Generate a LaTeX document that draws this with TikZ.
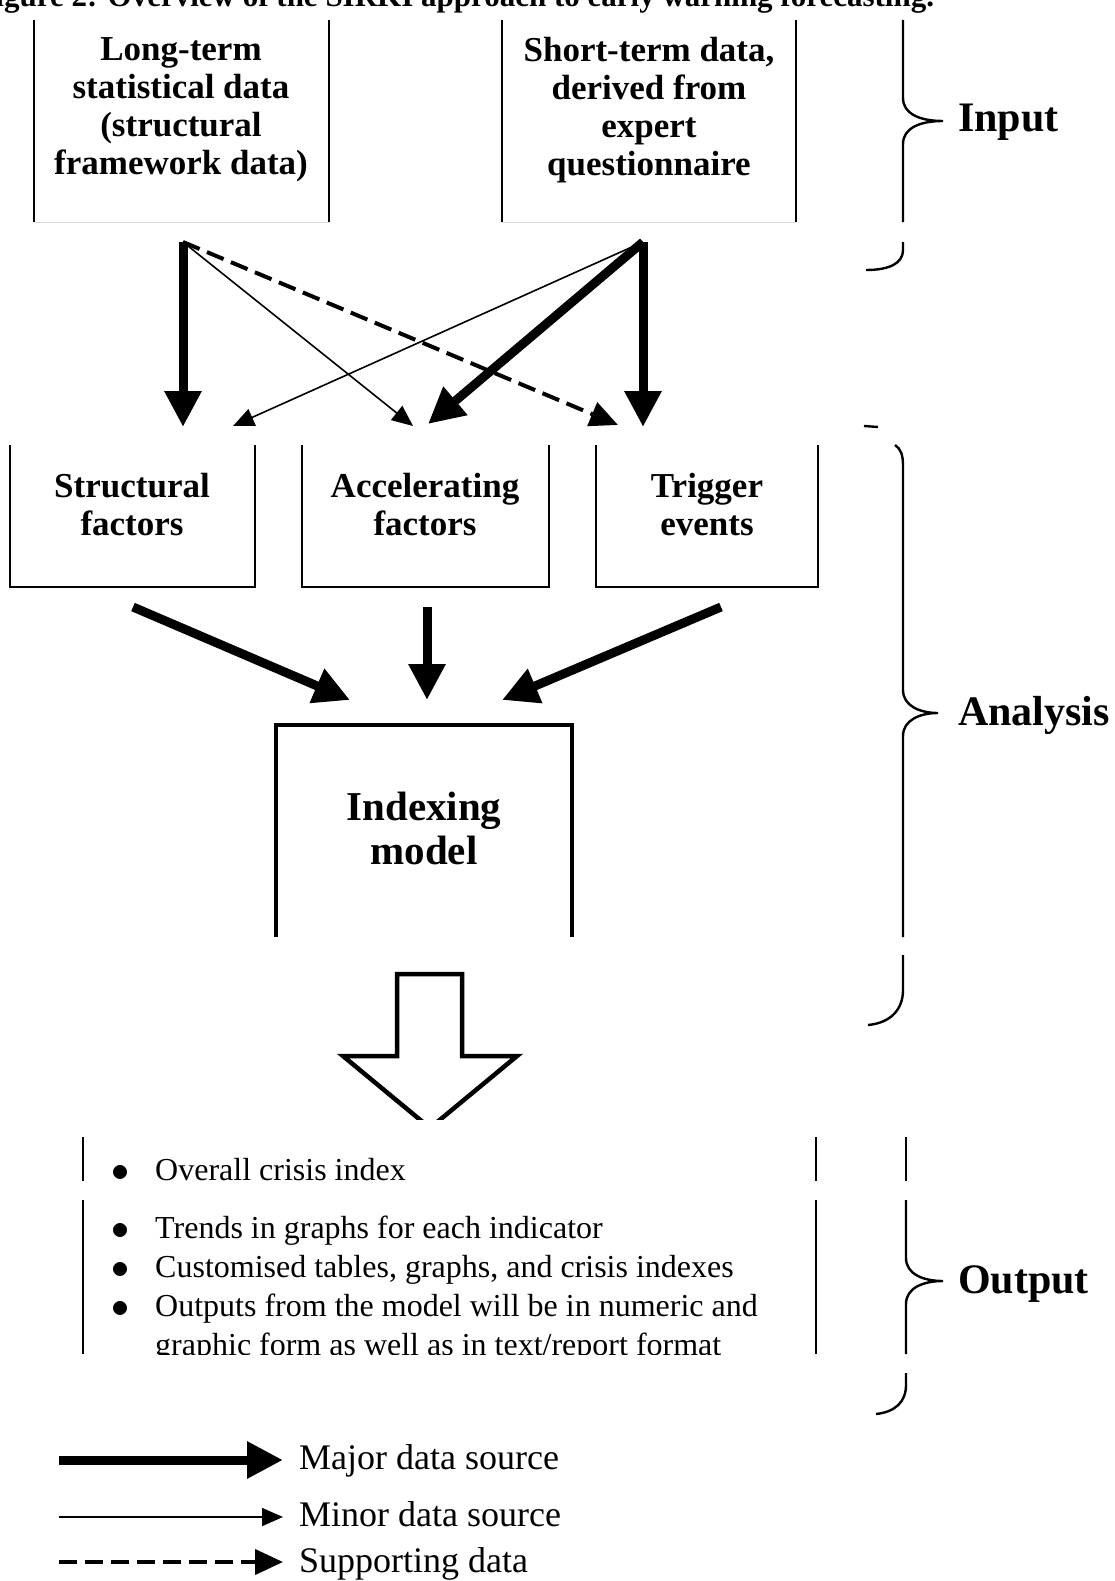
\documentclass[tikz,border=0pt]{standalone}
\usepackage{fontspec}
\setmainfont{Liberation Serif}
\usetikzlibrary{arrows.meta}
\tikzset{
  capt/.style    = {anchor=base west, font=\fontsize{31}{36}\selectfont\bfseries},
  boxtxt/.style  = {align=center, inner sep=0pt, font=\fontsize{35}{38}\selectfont\bfseries},
  bigtxt/.style  = {align=center, inner sep=0pt, font=\fontsize{41}{44}\selectfont\bfseries},
  phase/.style   = {anchor=base west, inner sep=0pt, font=\fontsize{42}{46}\selectfont\bfseries},
  listtxt/.style = {anchor=base west, inner sep=0pt, font=\fontsize{32}{39}\selectfont},
  keytxt/.style  = {anchor=base west, inner sep=0pt, font=\fontsize{36}{40}\selectfont},
  side/.style    = {line width=1.8pt},
  heavy/.style   = {line width=4.5pt, line join=miter},
  brace/.style   = {line width=2.4pt},
  major/.style   = {line width=9pt, -{Triangle[length=36pt,width=35pt]}},
  minor/.style   = {line width=1.6pt, -{Triangle[length=21pt,width=18pt]}},
  support/.style = {line width=4pt, dash pattern=on 18pt off 8pt,
                    -{Triangle[length=28pt,width=25pt]}}
}
\newcommand{\bigbullet}{\raisebox{-1.5pt}{\scalebox{1.45}{$\bullet$}}}
\newcommand{\bulletrows}[1]{\begin{tabular}[t]{@{}l@{\hspace{26pt}}l@{}}#1\end{tabular}}

\begin{document}
\begin{tikzpicture}[x=1pt, y=-1pt]
\useasboundingbox (0,0) rectangle (1114,1581);
\clip (0,0) rectangle (1114,1581);

\node[capt] (cap) at (-27,7) {Figure 2: Overview of the SIRKI approach to early warning forecasting.};

% input
\node[boxtxt] (ltdata) at (181,110) {Long-term\\statistical data\\(structural\\framework data)};
\node[boxtxt] (stdata) at (649,110) {Short-term data,\\derived from\\expert\\questionnaire};
\draw[side] (34,20) -- (34,222) (329,20) -- (329,222)
            (502,20) -- (502,222) (796,20) -- (796,222);
\draw[gray!30, line width=1pt] (34,222) -- (329,222) (502,222) -- (796,222);

\coordinate (ltsrc) at (183,242);
\coordinate (stsrc) at (643,242);

% analysis
\node[boxtxt] (sf)  at (132,505) {Structural\\factors};
\node[boxtxt] (af)  at (425,505) {Accelerating\\factors};
\node[boxtxt] (tev) at (707,505) {Trigger\\events};
\draw[side] (10,445) |- (255,587) -- (255,445);
\draw[side] (302,445) |- (549,587) -- (549,445);
\draw[side] (596,445) |- (818,587) -- (818,445);

\coordinate (sf-maj)  at (183,427);
\coordinate (sf-min)  at (233,426);
\coordinate (af-min)  at (413,426);
\coordinate (af-maj)  at (428,424);
\coordinate (tev-sup) at (618,425);
\coordinate (tev-maj) at (643,427);

\draw[major]   (ltsrc) -- (sf-maj);
\draw[minor]   (stsrc) -- (sf-min);
\draw[minor]   (ltsrc) -- (af-min);
\draw[major]   (stsrc) -- (af-maj);
\draw[support] (ltsrc) -- (tev-sup);
\draw[major]   (stsrc) -- (tev-maj);

\node[bigtxt] (idx) at (424,828) {Indexing\\model};
\draw[heavy] (276,937) -- (276,725) -- (572,725) -- (572,937);

\coordinate (sf-out)  at (133,607);
\coordinate (af-out)  at (427,607);
\coordinate (tev-out) at (721,607);
\coordinate (idx-l) at (350,700);
\coordinate (idx-m) at (427,700);
\coordinate (idx-r) at (502,700);
\draw[major] (sf-out) -- (idx-l);
\draw[major] (af-out) -- (idx-m);
\draw[major] (tev-out) -- (idx-r);

\begin{scope}
  \clip (0,960) rectangle (1114,1119);
  \draw[heavy, fill=white] (397,974) -- (462,974) -- (462,1056) -- (517,1056)
       -- (430,1128) -- (343,1056) -- (397,1056) -- cycle;
\end{scope}

% output
\draw[side] (83,1137) -- (83,1181) (83,1200) -- (83,1354)
            (816,1137) -- (816,1181) (816,1200) -- (816,1354);
\begin{scope}
  \clip (0,1130) rectangle (1114,1182) (0,1195) rectangle (1114,1354);
  \node[listtxt] (ovr) at (111,1180) {\bulletrows{\bigbullet & Overall crisis index}};
  \node[listtxt] (lst) at (111,1238) {\bulletrows{%
    \bigbullet & Trends in graphs for each indicator\\
    \bigbullet & Customised tables, graphs, and crisis indexes\\
    \bigbullet & Outputs from the model will be in numeric and\\
               & graphic form as well as in text/report format}};
\end{scope}

% braces
\draw[brace] (903,20) -- (903,98) .. controls (903,114) and (920,121) .. (943,121)
     .. controls (920,121) and (903,128) .. (903,144) -- (903,222);
\draw[brace] (903,242) -- (903,250) .. controls (903,263) and (890,270) .. (866,270);
\node[phase] (inp) at (958,132) {Input};

\draw[brace] (864,426) -- (878,427);
\draw[brace] (895,445) .. controls (901,449) and (903,455) .. (903,466) -- (903,690)
     .. controls (903,706) and (920,713) .. (938,713)
     .. controls (920,713) and (903,720) .. (903,736) -- (903,937);
\draw[brace] (903,955) -- (903,990) .. controls (903,1010) and (890,1023) .. (868,1025);
\node[phase] (ana) at (958,725) {Analysis};

\draw[brace] (906,1137) -- (906,1181);
\draw[brace] (906,1200) -- (906,1258) .. controls (906,1274) and (923,1281) .. (943,1281)
     .. controls (923,1281) and (906,1288) .. (906,1304) -- (906,1354);
\draw[brace] (906,1373) -- (906,1385) .. controls (906,1402) and (895,1412) .. (876,1414);
\node[phase] (out) at (958,1293) {Output};

% key
\coordinate (k1a) at (59,1460);  \coordinate (k1b) at (283,1460);
\coordinate (k2a) at (59,1517);  \coordinate (k2b) at (283,1517);
\coordinate (k3a) at (59,1562);  \coordinate (k3b) at (283,1562);
\draw[major]   (k1a) -- (k1b);
\draw[minor]   (k2a) -- (k2b);
\draw[support] (k3a) -- (k3b);
\node[keytxt] (k1) at (299,1469) {Major data source};
\node[keytxt] (k2) at (299,1526) {Minor data source};
\node[keytxt] (k3) at (299,1572) {Supporting data};
\end{tikzpicture}
\end{document}
